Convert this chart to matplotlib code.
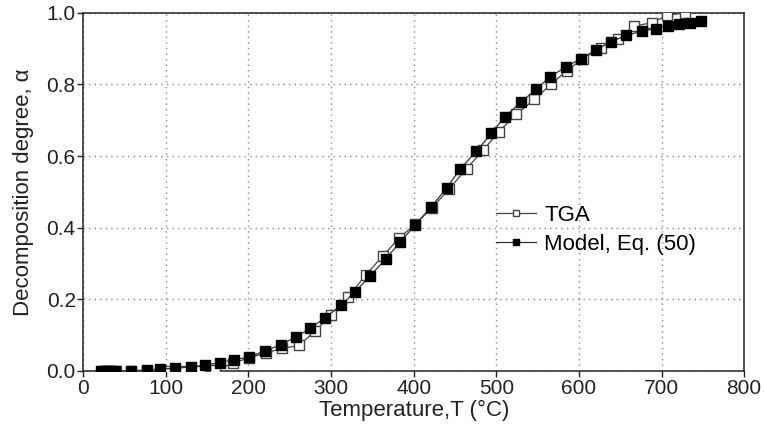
import matplotlib
matplotlib.use('Agg')
import matplotlib.pyplot as plt

plt.rcParams['font.family'] = ['Liberation Sans', 'DejaVu Sans']

# TGA measurements
tga_T = [25, 30, 35, 40, 58, 77, 101, 121, 141, 160, 181, 201, 221, 241, 261,
         280, 300, 321, 342, 363, 382, 402, 422, 443, 464, 484, 503, 524, 546,
         566, 585, 605, 627, 647, 667, 688, 707, 729]
tga_alpha = [0.0, 0.0, 0.0, 0.0, 0.0, 0.0, 0.001, 0.001, 0.001, 0.002, 0.021,
             0.037, 0.05, 0.063, 0.071, 0.11, 0.156, 0.207, 0.268, 0.322, 0.37,
             0.41, 0.455, 0.508, 0.565, 0.616, 0.668, 0.716, 0.758, 0.80, 0.838,
             0.872, 0.903, 0.928, 0.963, 0.972, 0.993, 1.0]

# model curve, Eq. (50)
model_T = [22, 26, 30, 34, 38, 58, 77, 93, 111, 130, 147, 165, 183, 201, 220,
           239, 257, 275, 293, 312, 329, 347, 366, 384, 402, 421, 440, 456, 476,
           494, 510, 530, 548, 565, 584, 603, 621, 639, 657, 676, 693, 708, 721,
           734, 748]
model_alpha = [0.0, 0.0, 0.0, 0.0, 0.0, 0.001, 0.002, 0.005, 0.007, 0.011,
               0.016, 0.023, 0.031, 0.039, 0.056, 0.073, 0.094, 0.119, 0.149,
               0.183, 0.221, 0.265, 0.312, 0.361, 0.408, 0.458, 0.511, 0.563,
               0.614, 0.663, 0.709, 0.751, 0.786, 0.821, 0.849, 0.872, 0.897,
               0.919, 0.937, 0.948, 0.956, 0.962, 0.968, 0.972, 0.976]

fig = plt.figure(figsize=(7.64, 4.41), dpi=100)
ax = fig.add_axes([0.109, 0.159, 0.865, 0.812])

ax.plot(tga_T, tga_alpha, color='#444444', lw=0.9, marker='s', ms=6.6,
        mfc='white', mec='#444444', mew=1.0, label='TGA', zorder=3)
ax.plot(model_T, model_alpha, color='#333333', lw=0.9, marker='s', ms=6.6,
        mfc='black', mec='black', mew=1.0, label='Model, Eq. (50)', zorder=4)

ax.set_xlim(0, 800)
ax.set_ylim(0, 1.0)
ax.set_xticks(range(0, 801, 100))
ax.set_yticks([0.0, 0.2, 0.4, 0.6, 0.8, 1.0])
ax.set_yticklabels(['0.0', '0.2', '0.4', '0.6', '0.8', '1.0'])
ax.grid(True, color='#888888', lw=1.0, linestyle=(0, (1, 3)))
ax.set_axisbelow(True)

for s in ax.spines.values():
    s.set_color('#222222')
    s.set_linewidth(1.1)
ax.tick_params(direction='out', length=4, width=1, colors='#222222',
               labelsize=15, labelcolor='#222222', pad=1.5)

ax.set_xlabel('Temperature,T (°C)', fontsize=16, color='#222222', labelpad=2)
ax.set_ylabel('Decomposition degree, α', fontsize=16, color='#222222',
              labelpad=9)

ax.legend(loc='center left', bbox_to_anchor=(0.595, 0.394), frameon=False,
          fontsize=16, handlelength=1.8, markerscale=0.75, handletextpad=0.35,
          labelspacing=0.35)

fig.savefig('out.png', dpi=100)
